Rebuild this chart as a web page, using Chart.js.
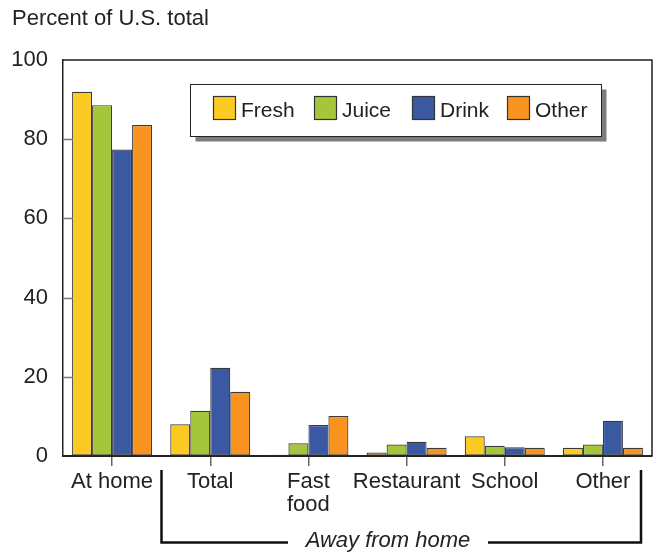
<!DOCTYPE html>
<html>
<head>
<meta charset="utf-8">
<script src="https://cdn.jsdelivr.net/npm/chart.js@4/dist/chart.umd.min.js"></script>
<style>
  html, body { margin: 0; padding: 0; background: #fff; }
  #wrap { width: 655px; height: 552px; }
</style>
</head>
<body>
<div id="wrap"><canvas id="c" width="655" height="552"></canvas></div>
<script>
const categories = ['At home', 'Total', ['Fast', 'food'], 'Restaurant', 'School', 'Other'];
const fresh  = [92.0, 8.0, 0.3, 0.9, 5.0, 2.1];
const juice  = [88.6, 11.4, 3.2, 2.9, 2.6, 2.9];
const drink  = [77.4, 22.3, 7.8, 3.6, 2.2, 8.9];
const other  = [83.6, 16.2, 10.1, 2.1, 2.1, 2.1];
const seriesNames = ['Fresh', 'Juice', 'Drink', 'Other'];
const yTicks = [0, 20, 40, 60, 80, 100];
const titleText = 'Percent of U.S. total';
const bracketText = 'Away from home';

const colors = ['#FCCB23', '#A5C63B', '#3B58A3', '#F7931E'];
const FONT = '"Liberation Sans", Arial, Helvetica, sans-serif';
const INK = '#222';

const decor = {
  id: 'decor',
  afterDatasetsDraw(chart) {
    const ctx = chart.ctx, a = chart.chartArea, y = chart.scales.y;
    ctx.save();
    ctx.strokeStyle = INK; ctx.lineWidth = 1.5;
    ctx.beginPath();
    ctx.moveTo(a.left, a.top); ctx.lineTo(a.right, a.top); ctx.lineTo(a.right, a.bottom);
    ctx.stroke();
    ctx.strokeStyle = '#7a7a7a'; ctx.lineWidth = 1.5;
    yTicks.slice(1, -1).forEach(v => {
      const py = Math.round(y.getPixelForValue(v)) + 0.5;
      ctx.beginPath(); ctx.moveTo(a.left, py); ctx.lineTo(a.left + 10, py); ctx.stroke();
    });
    ctx.restore();
  },
  afterDraw(chart) {
    const ctx = chart.ctx;
    ctx.save();
    ctx.fillStyle = INK;
    ctx.font = '22px ' + FONT;
    ctx.textAlign = 'left'; ctx.textBaseline = 'middle';
    ctx.fillText(titleText, 12, 19);

    const lx = 190.5, ly = 84.5, lw = 411, lh = 52;
    ctx.fillStyle = '#7d7d7d';
    ctx.fillRect(lx + 5, ly + 5, lw, lh);
    ctx.fillStyle = '#fff';
    ctx.fillRect(lx, ly, lw, lh);
    ctx.strokeStyle = INK; ctx.lineWidth = 1;
    ctx.strokeRect(lx, ly, lw, lh);
    const sw = [213, 314, 412, 507];
    ctx.font = '21px ' + FONT;
    chart.data.datasets.forEach((ds, i) => {
      ctx.fillStyle = ds.backgroundColor;
      ctx.fillRect(sw[i] + 0.5, 96.5, 22, 23);
      ctx.strokeStyle = '#333'; ctx.lineWidth = 1.2;
      ctx.strokeRect(sw[i] + 0.5, 96.5, 22, 23);
      ctx.fillStyle = INK;
      ctx.textAlign = 'left'; ctx.textBaseline = 'middle';
      ctx.fillText(ds.label, sw[i] + 28, 111);
    });

    ctx.strokeStyle = '#111'; ctx.lineWidth = 2.5;
    ctx.beginPath();
    ctx.moveTo(161.5, 470); ctx.lineTo(161.5, 542.5); ctx.lineTo(288, 542.5);
    ctx.moveTo(488, 542.5); ctx.lineTo(641, 542.5); ctx.lineTo(641, 470);
    ctx.stroke();
    ctx.fillStyle = INK;
    ctx.font = 'italic 22px ' + FONT;
    ctx.textAlign = 'center'; ctx.textBaseline = 'middle';
    ctx.fillText(bracketText, 388, 541);
    ctx.restore();
  }
};

const series = [fresh, juice, drink, other];
new Chart(document.getElementById('c'), {
  type: 'bar',
  data: {
    labels: categories,
    datasets: series.map((d, i) => ({
      label: seriesNames[i],
      data: d,
      backgroundColor: colors[i],
      borderColor: '#3a3a3a',
      borderWidth: 1.2,
      borderSkipped: false,
      categoryPercentage: 0.815,
      barPercentage: 1.0
    }))
  },
  options: {
    responsive: false,
    devicePixelRatio: 1,
    animation: false,
    layout: { padding: { top: 60, right: 3, left: 0, bottom: 0 } },
    plugins: { legend: { display: false }, tooltip: { enabled: false }, title: { display: false } },
    scales: {
      x: {
        offset: true,
        grid: { offset: false, drawOnChartArea: false, drawTicks: true, tickLength: 10, color: '#666', lineWidth: 1.5 },
        border: { color: INK, width: 2 },
        ticks: { font: { family: FONT, size: 22, lineHeight: 1.05 }, color: INK, padding: 4, maxRotation: 0, autoSkip: false },
        afterFit(s) { s.height = 96; }
      },
      y: {
        min: 0, max: 100,
        afterBuildTicks(s) { s.ticks = yTicks.map(v => ({ value: v })); },
        grid: { drawOnChartArea: false, drawTicks: false },
        border: { color: INK, width: 1.5 },
        ticks: { font: { family: FONT, size: 22 }, color: INK, padding: 15 },
        afterFit(s) { s.width = 63; }
      }
    }
  },
  plugins: [decor]
});
</script>
</body>
</html>
